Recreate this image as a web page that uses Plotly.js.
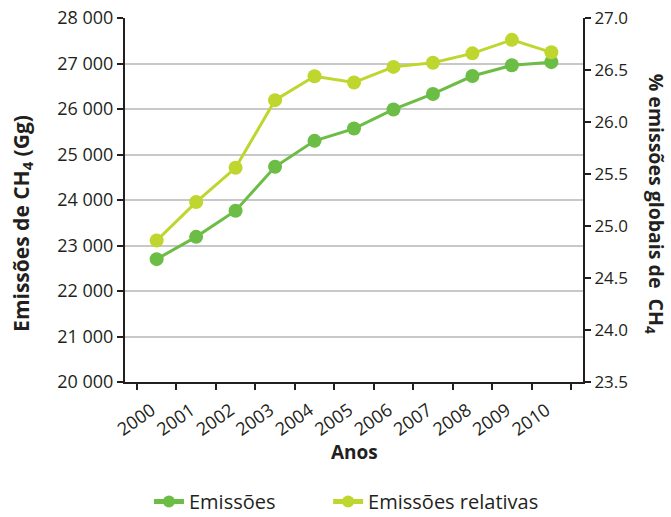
<!DOCTYPE html>
<html><head><meta charset="utf-8">
<script src="https://cdn.plot.ly/plotly-3.0.1.min.js"></script>
<style>html,body{margin:0;padding:0;background:#fff}#c{width:671px;height:517px}</style>
</head><body><div id="c"></div>
<script>
const years = ["2000","2001","2002","2003","2004","2005","2006","2007","2008","2009","2010"];
const emissoes = [22700,23190,23765,24730,25300,25570,25990,26330,26725,26960,27030];
const relativas = [24.86,25.23,25.56,26.21,26.44,26.38,26.53,26.57,26.66,26.79,26.67];
const seriesNames = ["Emissões","Emissões relativas"];

const F = "'Open Sans', Lato, sans-serif";
const C = "#231f20";
const traces = [
  {x: years, y: emissoes, name: seriesNames[0], type: "scatter", mode: "lines+markers", legend: "legend",
   line: {color: "#6cbd45", width: 3}, marker: {color: "#6cbd45", size: 14}, yaxis: "y"},
  {x: years, y: relativas, name: seriesNames[1], type: "scatter", mode: "lines+markers", legend: "legend2",
   line: {color: "#bfd62f", width: 3}, marker: {color: "#bfd62f", size: 14}, yaxis: "y2"}
];
const legBase = {orientation: "h", xref: "container", yref: "container", xanchor: "left",
  y: 0.03, yanchor: "middle", font: {size: 20, color: C}, itemwidth: 30, itemsizing: "constant",
  bgcolor: "rgba(0,0,0,0)"};
const layout = {
  width: 671, height: 517, separators: ". ",
  margin: {l: 125, r: 88, t: 18, b: 135, autoexpand: false},
  paper_bgcolor: "#fff", plot_bgcolor: "#fff",
  font: {family: F, size: 17, color: C},
  showlegend: true,
  legend: Object.assign({}, legBase, {x: 0.222}),
  legend2: Object.assign({}, legBase, {x: 0.489}),
  xaxis: {type: "category", tickangle: -35, showgrid: false, showline: true, linecolor: C, linewidth: 2,
          ticks: "outside", tickson: "boundaries", ticklen: 6, tickwidth: 2, tickcolor: C,
          tickfont: {size: 18}, automargin: false, ticklabelshift: -5, ticklabelstandoff: 9},
  yaxis: {range: [20000, 28000], dtick: 1000, tickformat: ",d", showline: true, linecolor: C, linewidth: 2,
          ticks: "outside", ticklen: 6, tickwidth: 2, tickcolor: C, gridcolor: "#c8c8c8", gridwidth: 1.5,
          zeroline: false, tickfont: {size: 18}, automargin: false},
  yaxis2: {range: [23.5, 27.0], dtick: 0.5, tickformat: ".1f", overlaying: "y", side: "right",
          showline: true, linecolor: C, linewidth: 2, ticks: "outside", ticklen: 6, tickwidth: 2,
          tickcolor: C, showgrid: false, zeroline: false, tickfont: {size: 17}, automargin: false},
  annotations: [
    {text: "<b>Emissões de CH<sub>4</sub> (Gg)</b>", textangle: -90, xref: "paper", yref: "paper",
     x: -0.225, y: 0.437, xanchor: "center", yanchor: "middle", showarrow: false, font: {size: 21, color: C}},
    {text: "<b>% emissões globais de  CH<sub>4</sub></b>", textangle: 90, xref: "paper", yref: "paper",
     x: 1.16, y: 0.489, xanchor: "center", yanchor: "middle", showarrow: false, font: {size: 19.5, color: C}},
    {text: "<b>Anos</b>", xref: "paper", yref: "paper", x: 0.5, y: -0.192, xanchor: "center", yanchor: "middle",
     showarrow: false, font: {size: 19, color: C}}
  ]
};
Plotly.newPlot("c", traces, layout, {displayModeBar: false});
</script></body></html>
